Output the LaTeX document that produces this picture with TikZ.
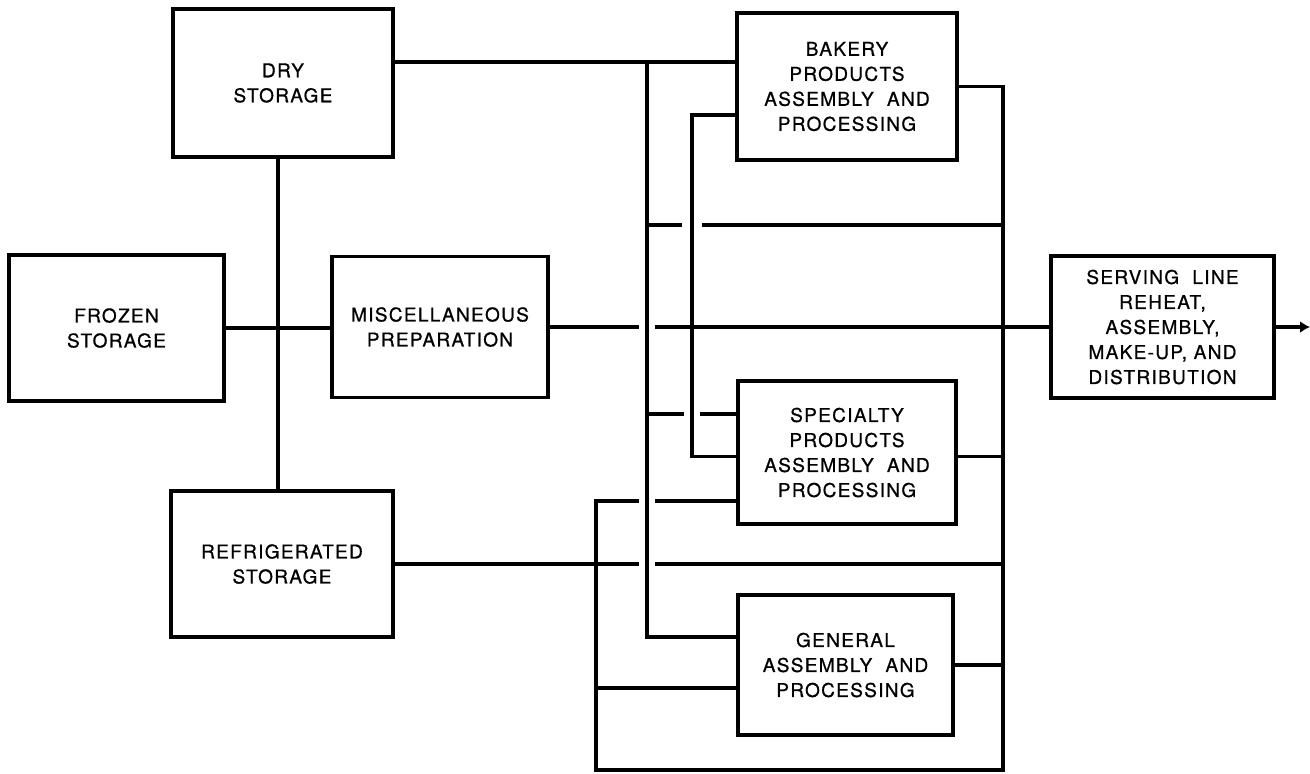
\documentclass[tikz,border=0pt]{standalone}
\usepackage{fontspec}
\newfontfamily\heros{TeX Gyre Heros}[LetterSpace=7,FakeBold=0.8]
\usetikzlibrary{calc,arrows.meta}

\begin{document}
\begin{tikzpicture}[
    x=0.5pt, y=-0.5pt,
    line/.style={line width=1.8pt},
    box/.style={draw, line width=1.6pt, align=center, inner sep=0pt,
        font=\heros\fontsize{9.5pt}{12.5pt}\selectfont}
]
    \useasboundingbox (0,0) rectangle (1310,773);
    % Lagerraeume
    \node[box, minimum width=110pt, minimum height=74pt] (dry) at (283,83) {DRY\\STORAGE};
    \node[box, minimum width=107.5pt, minimum height=73pt] (frozen) at (116.5,328) {FROZEN\\STORAGE};
    \node[box, minimum width=108pt, minimum height=70.5pt] (misc) at (440,327) {MISCELLANEOUS\\PREPARATION};
    \node[box, minimum width=111pt, minimum height=73pt] (refrig) at (282,564) {REFRIGERATED\\STORAGE};
    % Verarbeitung
    \node[box, minimum width=110pt, minimum height=73.5pt] (bakery) at (847,86.5) {BAKERY\\PRODUCTS\\ASSEMBLY\ \ AND\\PROCESSING};
    \node[box, minimum width=109pt, minimum height=71.5pt] (special) at (847,452.5) {SPECIALTY\\PRODUCTS\\ASSEMBLY\ \ AND\\PROCESSING};
    \node[box, minimum width=107.5pt, minimum height=70pt] (general) at (845.5,665) {GENERAL\\ASSEMBLY\ \ AND\\PROCESSING};
    \node[box, minimum width=111.5pt, minimum height=71pt] (serving) at (1162.5,327) {SERVING\ \ LINE\\REHEAT,\\ASSEMBLY,\\MAKE-UP,\ AND\\DISTRIBUTION};

    % Sammelleitungen
    \coordinate (trunk) at (278,0);
    \coordinate (A) at (647,0);
    \coordinate (B) at (692,0);
    \coordinate (C) at (1003,0);
    \coordinate (D) at (596,0);
    \coordinate (row) at (0,225);
    \coordinate (bot) at (0,770);
    \coordinate (out) at (1310,327);
    \coordinate (bk1) at ($(bakery.west)+(0,-24.5)$);
    \coordinate (bk2) at ($(bakery.west)+(0,28.5)$);
    \coordinate (sp1) at ($(special.west)+(0,-38.5)$);
    \coordinate (sp2) at ($(special.west)+(0,4)$);
    \coordinate (sp3) at ($(special.west)+(0,48.5)$);
    \coordinate (gn1) at ($(general.west)+(0,-28)$);
    \coordinate (gn2) at ($(general.west)+(0,23)$);

    \draw[line] (dry.south -| trunk) -- (refrig.north -| trunk);
    \draw[line] (frozen.east) -- (frozen.east -| misc.west);
    \draw[line] (dry.east |- bk1) -- (bk1);
    \draw[line] (A |- bk1) -- (A |- gn1) -- (gn1);
    \draw[line] (bk2) -- (B |- bk2) -- (B |- sp2) -- (sp2);
    \draw[line] (bakery.east) -- (C |- bakery.east) -- (C |- bot) -- (D |- bot)
        -- (D |- sp3) -- ([xshift=-4pt]A |- sp3);
    \draw[line] ([xshift=4pt]A |- sp3) -- (sp3);
    % Querleitungen mit Unterbrechung
    \draw[line] (A |- row) -- ([xshift=-5pt]B |- row);
    \draw[line] ([xshift=5pt]B |- row) -- (C |- row);
    \draw[line] (misc.east) -- ([xshift=-4pt]A |- misc.east);
    \draw[line] ([xshift=4pt]A |- misc.east) -- (misc.east -| serving.west);
    \draw[line] (A |- sp1) -- ([xshift=-4pt]B |- sp1);
    \draw[line] ([xshift=4pt]B |- sp1) -- (sp1);
    \draw[line] (special.east |- sp2) -- (C |- sp2);
    \draw[line] (refrig.east) -- ([xshift=-4pt]A |- refrig.east);
    \draw[line] ([xshift=4pt]A |- refrig.east) -- (C |- refrig.east);
    \draw[line] (general.east) -- (C |- general.east);
    \draw[line] (D |- gn2) -- (gn2);
    \draw[line, -{Latex[length=5pt,width=6pt]}] (serving.east) -- (out);
\end{tikzpicture}
\end{document}
